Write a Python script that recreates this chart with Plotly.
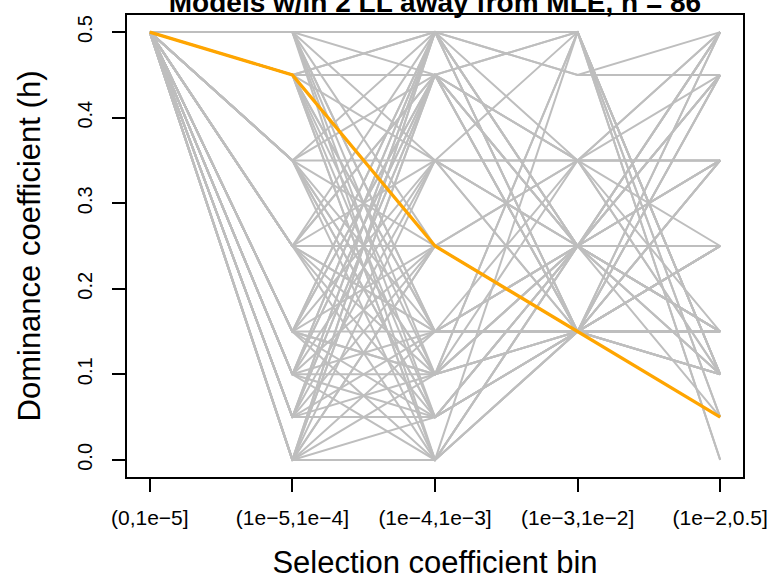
import plotly.graph_objects as go

bins = ["(0,1e\u22125]", "(1e\u22125,1e\u22124]", "(1e\u22124,1e\u22123]", "(1e\u22123,1e\u22122]", "(1e\u22122,0.5]"]

# h value per selection bin for each model (gray lines)
h_bin1 = [0.5] * 80
h_bin2 = [0.5, 0.5, 0.5, 0.5, 0.5, 0.5, 0.5, 0.45, 0.45, 0.45, 0.45, 0.45, 0.45, 0.45,
          0.35, 0.35, 0.35, 0.35, 0.35, 0.35, 0.35, 0.25, 0.25, 0.25, 0.25, 0.25, 0.25, 0.25, 0.25,
          0.15, 0.15, 0.15, 0.15, 0.15, 0.15, 0.15, 0.15, 0.1, 0.1, 0.1, 0.1, 0.1, 0.1, 0.1, 0.1,
          0.05, 0.05, 0.05, 0.05, 0.05, 0.05, 0.05, 0.0, 0.0, 0.0, 0.0, 0.0, 0.0, 0.0, 0.0,
          0.45, 0.5, 0.35, 0.15, 0.0,
          0.45, 0.35, 0.1, 0.05, 0.0, 0.15, 0.05, 0.1, 0.0, 0.25, 0.15, 0.45, 0.35, 0.5, 0.25]
h_bin3 = [0.5, 0.45, 0.35, 0.15, 0.1, 0.0, 0.05, 0.5, 0.5, 0.35, 0.15, 0.1, 0.05, 0.0,
          0.5, 0.45, 0.25, 0.15, 0.1, 0.05, 0.0, 0.5, 0.45, 0.35, 0.25, 0.15, 0.1, 0.05, 0.0,
          0.5, 0.45, 0.35, 0.25, 0.15, 0.1, 0.05, 0.0, 0.5, 0.45, 0.35, 0.25, 0.15, 0.1, 0.05, 0.0,
          0.5, 0.45, 0.35, 0.25, 0.15, 0.1, 0.05, 0.5, 0.45, 0.35, 0.25, 0.15, 0.1, 0.05, 0.0,
          0.45, 0.25, 0.35, 0.5, 0.45,
          0.15, 0.05, 0.45, 0.5, 0.5, 0.45, 0.45, 0.5, 0.25, 0.15, 0.1, 0.0, 0.1, 0.15, 0.45]
h_bin4 = [0.5, 0.35, 0.25, 0.25, 0.15, 0.15, 0.25, 0.45, 0.5, 0.35, 0.15, 0.25, 0.15, 0.25,
          0.25, 0.5, 0.35, 0.15, 0.5, 0.25, 0.15, 0.15, 0.25, 0.5, 0.25, 0.35, 0.15, 0.25, 0.25,
          0.35, 0.15, 0.25, 0.15, 0.25, 0.5, 0.15, 0.25, 0.25, 0.15, 0.15, 0.35, 0.15, 0.25, 0.15, 0.5,
          0.45, 0.25, 0.15, 0.25, 0.15, 0.35, 0.15, 0.15, 0.25, 0.35, 0.15, 0.25, 0.15, 0.25, 0.15,
          0.35, 0.15, 0.25, 0.5, 0.5,
          0.25, 0.15, 0.25, 0.25, 0.25, 0.35, 0.15, 0.15, 0.25, 0.15, 0.25, 0.15, 0.25, 0.15, 0.15]
h_bin5 = [0.1, 0.45, 0.25, 0.5, 0.15, 0.25, 0.35, 0.45, 0.05, 0.35, 0.1, 0.45, 0.5, 0.1,
          0.15, 0.0, 0.5, 0.35, 0.1, 0.25, 0.45, 0.25, 0.5, 0.05, 0.15, 0.1, 0.5, 0.45, 0.35,
          0.25, 0.15, 0.1, 0.45, 0.05, 0.0, 0.25, 0.5, 0.35, 0.25, 0.1, 0.15, 0.35, 0.25, 0.15, 0.1,
          0.5, 0.15, 0.05, 0.45, 0.25, 0.35, 0.1, 0.15, 0.25, 0.5, 0.35, 0.1, 0.25, 0.15, 0.45,
          0.1, 0.15, 0.45, 0.1, 0.1,
          0.25, 0.15, 0.5, 0.25, 0.35, 0.35, 0.15, 0.1, 0.15, 0.25, 0.15, 0.15, 0.25, 0.25, 0.35]

# best (MLE) model
h_best = [0.5, 0.45, 0.25, 0.15, 0.05]

x_pos = [1, 2, 3, 4, 5]
y_ticks = [0, 0.1, 0.2, 0.3, 0.4, 0.5]
y_ticktext = ["0.0", "0.1", "0.2", "0.3", "0.4", "0.5"]

xs, ys = [], []
for i in range(len(h_bin1)):
    vals = [h_bin1[i], h_bin2[i], h_bin3[i], h_bin4[i], h_bin5[i]]
    xs += x_pos + [None]
    ys += vals + [None]

fig = go.Figure()
fig.add_trace(go.Scatter(x=xs, y=ys, mode="lines",
                         line=dict(color="#BEBEBE", width=2), hoverinfo="skip",
                         showlegend=False))
fig.add_trace(go.Scatter(x=x_pos, y=h_best, mode="lines",
                         line=dict(color="#FFA500", width=3.3), showlegend=False))

font = "Liberation Sans, Arial, sans-serif"
fig.update_layout(
    width=769, height=580,
    margin=dict(l=127, r=26, t=15, b=103, autoexpand=False),
    plot_bgcolor="white", paper_bgcolor="white",
    font=dict(family=font, color="black"),
    title=dict(text="<b>Models w/in 2 LL away from MLE, n = 86</b>",
               x=0.5, xref="paper", xanchor="center",
               y=0.997, yref="container", yanchor="middle",
               font=dict(size=28, family=font)),
)
fig.update_xaxes(
    range=[0.84, 5.16], tickmode="array", tickvals=x_pos, ticktext=bins,
    showline=True, mirror=True, linecolor="black", linewidth=1.5,
    ticks="outside", ticklen=13, tickcolor="black", tickwidth=1.5,
    showgrid=False, zeroline=False, tickfont=dict(size=21),
    ticklabelstandoff=8, automargin=False,
    title=dict(text="Selection coefficient bin", font=dict(size=31), standoff=24),
)
fig.update_yaxes(
    range=[-0.02, 0.52], tickmode="array", tickvals=y_ticks,
    ticktext=y_ticktext, tickangle=-90,
    showline=True, mirror=True, linecolor="black", linewidth=1.5,
    ticks="outside", ticklen=13, tickcolor="black", tickwidth=1.5,
    showgrid=False, zeroline=False, tickfont=dict(size=20),
    ticklabelstandoff=12, automargin=False,
    title=dict(text="Dominance coefficient (h)", font=dict(size=31), standoff=24),
)

fig.write_html("out.html", config={"displayModeBar": False},
               post_script="document.body.style.margin='0px';document.body.style.overflow='hidden';")
